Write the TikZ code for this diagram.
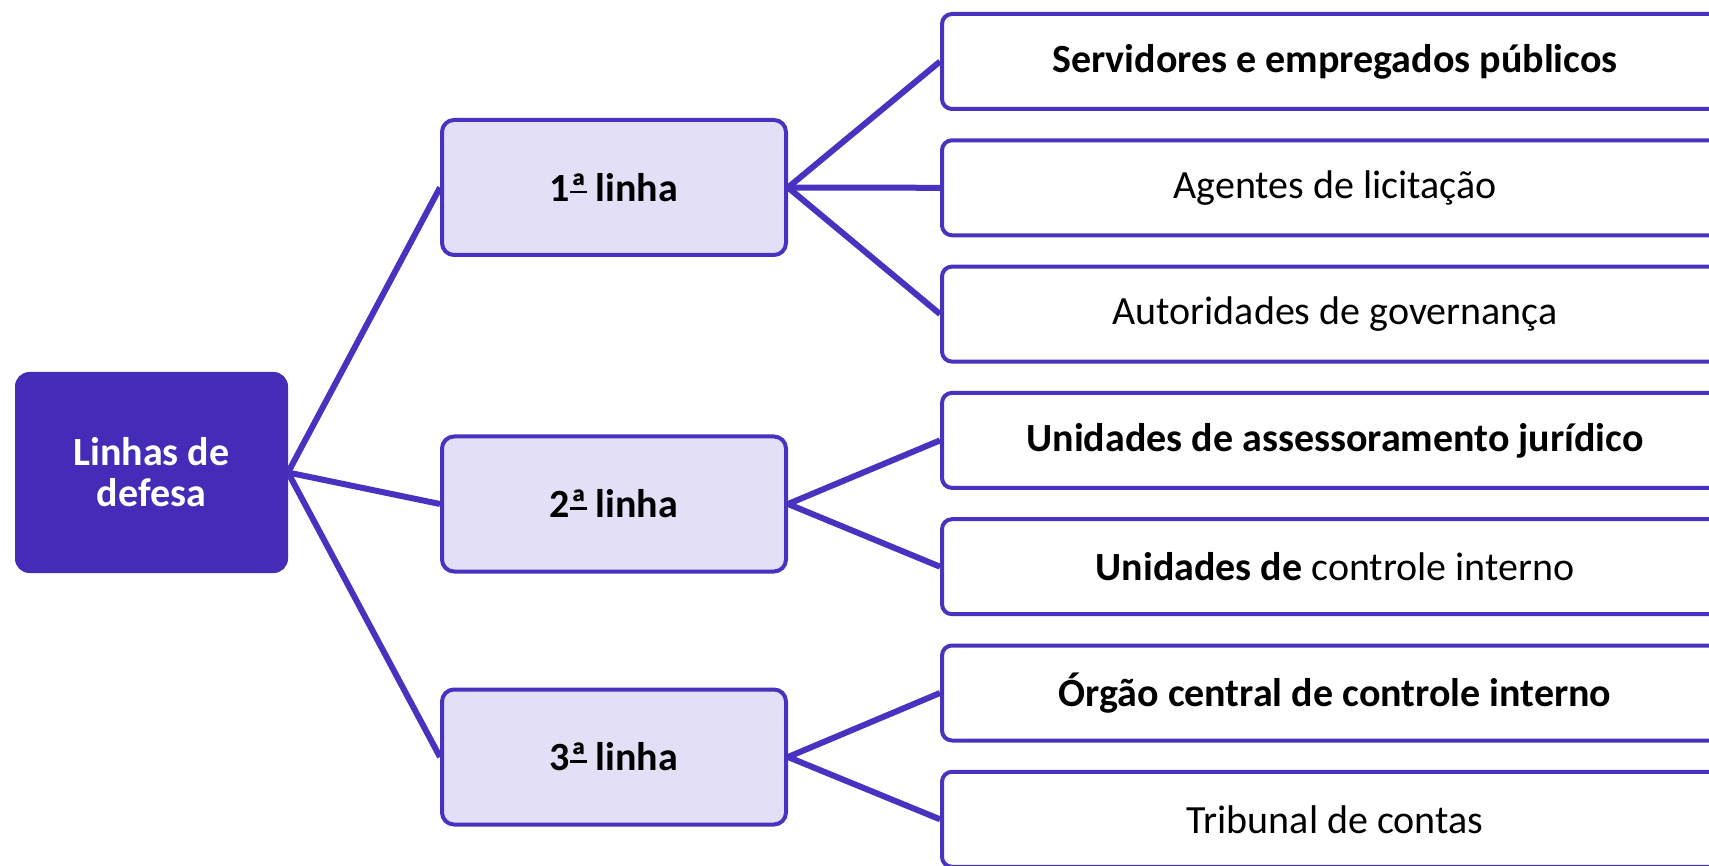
\documentclass[tikz,border=0pt]{standalone}
\usepackage{fontspec}
\setmainfont{Carlito}
\usetikzlibrary{backgrounds}
\definecolor{deep}{HTML}{452CB8}
\definecolor{edge}{HTML}{4A32C0}
\definecolor{pale}{HTML}{E3DFF6}
\newcommand\ordbar{\setbox0\hbox{ª}\leavevmode\rlap{\copy0}\raisebox{0.2em}{\rule{\wd0}{0.07em}}}
\begin{document}
\begin{tikzpicture}[x=1pt,y=-1pt,
  rootbox/.style={draw=deep,fill=deep,rounded corners=14pt,minimum width=272pt,minimum height=200pt,
    text=white,font=\fontsize{40}{41}\selectfont\bfseries,align=center,line width=1pt,inner sep=0pt},
  midbox/.style={draw=edge,fill=pale,rounded corners=12pt,minimum width=344pt,minimum height=135pt,
    font=\fontsize{40}{48}\selectfont\bfseries,line width=4pt,inner sep=0pt},
  leafbox/.style={draw=edge,fill=white,rounded corners=10pt,minimum width=786pt,minimum height=95pt,
    font=\fontsize{40}{48}\selectfont,line width=4pt,inner sep=0pt},
  link/.style={draw=edge,line width=6pt}]
\useasboundingbox (0,0) rectangle (1709,866);
\clip (0,0) rectangle (1709,866);
\node[rootbox] (root) at (151.5,472.5) {Linhas de\\defesa};
\node[midbox] (m1) at (614,187.5) {1\ordbar{} linha};
\node[midbox] (m2) at (614,504) {2\ordbar{} linha};
\node[midbox] (m3) at (614,757) {3\ordbar{} linha};
\node[leafbox] (a1) at (1335,61.5) {\textbf{Servidores e empregados públicos}};
\node[leafbox] (a2) at (1335,187.8) {Agentes de licitação};
\node[leafbox] (a3) at (1335,314.1) {Autoridades de governança};
\node[leafbox] (b1) at (1335,440.4) {\textbf{Unidades de assessoramento jurídico}};
\node[leafbox] (b2) at (1335,566.7) {\textbf{Unidades de} controle interno};
\node[leafbox] (c1) at (1335,693) {\textbf{Órgão central de controle interno}};
\node[leafbox] (c2) at (1335,819.3) {Tribunal de contas};
\begin{scope}[on background layer]
\path[link] (root.east) -- (m1.west);
\path[link] (root.east) -- (m2.west);
\path[link] (root.east) -- (m3.west);
\path[link] (m1.east) -- (a1.west);
\path[link] (m1.east) -- (a2.west);
\path[link] (m1.east) -- (a3.west);
\path[link] (m2.east) -- (b1.west);
\path[link] (m2.east) -- (b2.west);
\path[link] (m3.east) -- (c1.west);
\path[link] (m3.east) -- (c2.west);
\end{scope}
\end{tikzpicture}
\end{document}
